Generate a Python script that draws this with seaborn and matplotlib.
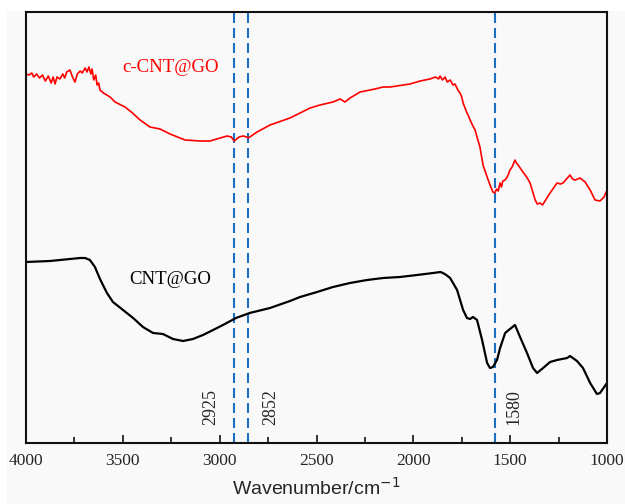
import matplotlib
matplotlib.use("Agg")
import matplotlib.pyplot as plt
import matplotlib.patches as mpatches
import numpy as np
import pandas as pd
import seaborn as sns

# FTIR spectra (transmittance, arbitrary units) vs. wavenumber (cm^-1)
wn_ccnt = [4000, 3985, 3970, 3960, 3945, 3930, 3915, 3900, 3885, 3870, 3860, 3850,
           3840, 3825, 3810, 3800, 3790, 3773, 3760, 3747, 3735, 3720, 3710, 3695,
           3685, 3675, 3665, 3659, 3650, 3640, 3633, 3625, 3618, 3600, 3566, 3540,
           3489, 3450, 3411, 3360, 3308, 3256, 3179, 3101, 3050, 2998, 2962, 2940,
           2925, 2900, 2879, 2860, 2852, 2807, 2740, 2637, 2585, 2533, 2482, 2415,
           2378, 2353, 2327, 2275, 2198, 2156, 2120, 2017, 1965, 1914, 1885, 1870,
           1862, 1850, 1836, 1825, 1810, 1795, 1785, 1770, 1759, 1750, 1743, 1735,
           1723, 1715, 1707, 1695, 1681, 1670, 1656, 1640, 1619, 1600, 1589, 1580,
           1570, 1562, 1552, 1545, 1538, 1526, 1515, 1501, 1490, 1475, 1468, 1459,
           1434, 1415, 1397, 1385, 1371, 1360, 1346, 1333, 1320, 1294, 1258, 1240,
           1227, 1191, 1178, 1165, 1139, 1113, 1087, 1062, 1036, 1015, 1000]
t_ccnt = [369, 368, 370, 366, 369, 365, 368, 362, 367, 360, 366, 359,
          366, 364, 369, 365, 371, 373, 366, 361, 369, 372, 370, 375,
          371, 376, 369, 374, 363, 368, 358, 360, 353, 350, 346, 341,
          336, 330, 323, 316, 314, 309, 303, 302, 302, 305, 307, 306,
          302, 306, 307, 306, 305, 311, 318, 325, 330, 335, 338, 341,
          344, 341, 345, 351, 354, 356, 356, 359, 362, 364, 366, 364,
          367, 363, 366, 361, 363, 358, 359, 353, 350, 346, 340, 336,
          330, 327, 323, 318, 313, 305, 296, 278, 266, 256, 251, 250,
          254, 252, 260, 256, 262, 263, 266, 273, 276, 283, 280, 278,
          271, 266, 260, 252, 243, 239, 240, 238, 242, 250, 260, 259,
          260, 268, 264, 263, 265, 261, 253, 243, 242, 246, 253]

wn_cnt = [4000, 3876, 3773, 3720, 3695, 3670, 3644, 3618, 3582, 3551, 3499, 3447, 3396,
          3344, 3293, 3241, 3189, 3138, 3086, 3034, 2983, 2916, 2845, 2740, 2637,
          2585, 2497, 2415, 2327, 2239, 2156, 2069, 1981, 1898, 1860, 1847, 1830, 1810, 1774,
          1743, 1723, 1707, 1692, 1671, 1645, 1619, 1604, 1589, 1568, 1552, 1526,
          1501, 1475, 1449, 1413, 1382, 1361, 1330, 1294, 1258, 1206, 1191, 1155,
          1124, 1087, 1052, 1036, 1000]
t_cnt = [181, 182, 184, 185, 185, 183, 176, 164, 150, 141, 133, 125, 116,
         110, 109, 104, 102, 104, 108, 113, 118, 125, 130, 135, 142,
         146, 151, 156, 160, 163, 165, 166, 168, 170, 171, 170, 168, 165, 153,
         133, 125, 124, 126, 123, 103, 80, 75, 76, 83, 95, 110,
         114, 118, 106, 90, 75, 70, 75, 81, 83, 85, 87, 82,
         75, 60, 49, 50, 60]

peaks = [2925, 2852, 1580]
peak_labels = ["2925", "2852", "1580"]
x_ticks = [4000, 3500, 3000, 2500, 2000, 1500, 1000]
series_names = ["c-CNT@GO", "CNT@GO"]

df = pd.concat([
    pd.DataFrame({"wavenumber": wn_ccnt, "T": t_ccnt, "sample": series_names[0]}),
    pd.DataFrame({"wavenumber": wn_cnt, "T": t_cnt, "sample": series_names[1]}),
])

sns.set_style("ticks")
plt.rcParams["font.family"] = ["Liberation Serif", "DejaVu Serif"]

fig = plt.figure(figsize=(6.25, 5.04), dpi=100, facecolor="white")
fig.patches.append(mpatches.Rectangle((7 / 625, 0), 1 - 7 / 625, 1 - 11 / 504,
                                      transform=fig.transFigure, facecolor="#f9f9f9",
                                      edgecolor="none", zorder=-10))
ax = fig.add_axes([26 / 625, 61 / 504, 581 / 625, 431 / 504])
ax.set_facecolor("#f9f9f9")

sns.lineplot(data=df, x="wavenumber", y="T", hue="sample", sort=False,
             palette={"c-CNT@GO": "#ff0000", "CNT@GO": "#000000"},
             linewidth=1.2, legend=False, ax=ax, estimator=None)
ax.lines[1].set_linewidth(1.6)
for ln in ax.lines:
    ln.set_solid_joinstyle("round")

for p in peaks:
    ax.axvline(p, color="#1b6ec2", lw=1.5, dashes=(4.8, 2.4), zorder=1)

offsets = [-17, 16, 14]
for p, lab, off in zip(peaks, peak_labels, offsets):
    ax.annotate(lab, xy=(p, 0.083), xycoords=("data", "axes fraction"),
                xytext=(off, 0), textcoords="offset points",
                rotation=90, ha="center", va="center", fontsize=13)

ax.text(3256, 376, "c-CNT@GO", color="#ff0000", fontsize=13.5, ha="center", va="center")
ax.text(3256, 164, "CNT@GO", color="#000000", fontsize=13.5, ha="center", va="center")

ax.set_xlim(4000, 1000)
ax.set_ylim(0, 431)
ax.set_xticks(x_ticks)
ax.set_xticks(np.arange(1250, 4000, 500), minor=True)
ax.set_yticks([])
ax.tick_params(axis="x", which="major", direction="in", length=6, width=1.3,
               labelsize=12.5, pad=7, top=False)
ax.tick_params(axis="x", which="minor", direction="in", length=4, width=1.3, top=False)
for s in ax.spines.values():
    s.set_visible(True)
    s.set_linewidth(1.5)
    s.set_color("#111111")

ax.set_ylabel("")
ax.set_xlabel("Wavenumber/cm$^{-1}$", fontsize=14, family=["Liberation Sans", "DejaVu Sans"],
              labelpad=6)

fig.savefig("out.png", dpi=100, facecolor=fig.get_facecolor())
